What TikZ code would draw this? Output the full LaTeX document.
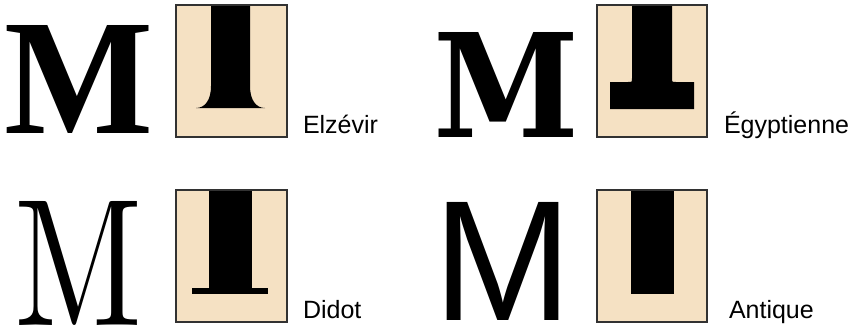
\documentclass[tikz,border=0pt]{standalone}
\usepackage{fontspec}
\usepackage{graphicx}
\setmainfont{Liberation Sans}
\newfontfamily\elzfont{Liberation Serif}
\newfontfamily\egyfont{DejaVu Serif}
\newfontfamily\didfont{Latin Modern Roman}
\newfontfamily\antfont{Liberation Sans}
\definecolor{beige}{RGB}{245,225,195}
\definecolor{frame}{RGB}{50,50,50}
\begin{document}
\begin{tikzpicture}[x=1pt,y=-1pt,
  glyph/.style={inner sep=0pt,outer sep=0pt,anchor=south west},
  lbl/.style={inner sep=0pt,outer sep=0pt,anchor=base west,font=\fontsize{25}{30}\selectfont},
  panel/.style={fill=beige},
  panelframe/.style={draw=frame,line width=1.3pt},
  stem/.style={fill=black}]
\useasboundingbox (0,0) rectangle (853,329);

% --- Elzevir ---
\node[glyph] (mElz) at (5,133) {\resizebox{149pt}{108pt}{\elzfont\bfseries M}};
\fill[panel] (176,5) rectangle (287,137);
\fill[stem] (211,5) -- (211,86) .. controls (211,100) and (205,108) .. (196,108)
  -- (265,108) .. controls (256,108) and (250,100) .. (250,86) -- (250,5) -- cycle;
\draw[panelframe] (176,5) rectangle (287,137);
\node[lbl] (tElz) at (303,133) {Elzévir};

% --- Egyptienne ---
\node[glyph] (mEgy) at (433,137) {\resizebox{146pt}{105pt}{\egyfont\bfseries M}};
\fill[panel] (597,5) rectangle (707,137);
\fill[stem] (632,5) -- (632,78) .. controls (632,82) .. (628,82) -- (610,82) -- (610,109)
  -- (694,109) -- (694,82) -- (676,82) .. controls (672,82) .. (672,78) -- (672,5) -- cycle;
\draw[panelframe] (597,5) rectangle (707,137);
\node[lbl] (tEgy) at (724,133) {Égyptienne};

% --- Didot ---
\node[glyph] (mDid) at (14,325) {\resizebox{128pt}{124pt}{\didfont M}};
\fill[panel] (176,190) rectangle (287,322);
\fill[stem] (209,190) rectangle (252,289);
\fill[stem] (192,288) rectangle (268,294);
\draw[panelframe] (176,190) rectangle (287,322);
\node[lbl] (tDid) at (303,318) {Didot};

% --- Antique ---
\node[glyph] (mAnt) at (433,320) {\resizebox{139pt}{118pt}{\antfont M}};
\fill[panel] (597,190) rectangle (707,322);
\fill[stem] (631,190) rectangle (674,294);
\draw[panelframe] (597,190) rectangle (707,322);
\node[lbl] (tAnt) at (729,318) {Antique};
\end{tikzpicture}
\end{document}
